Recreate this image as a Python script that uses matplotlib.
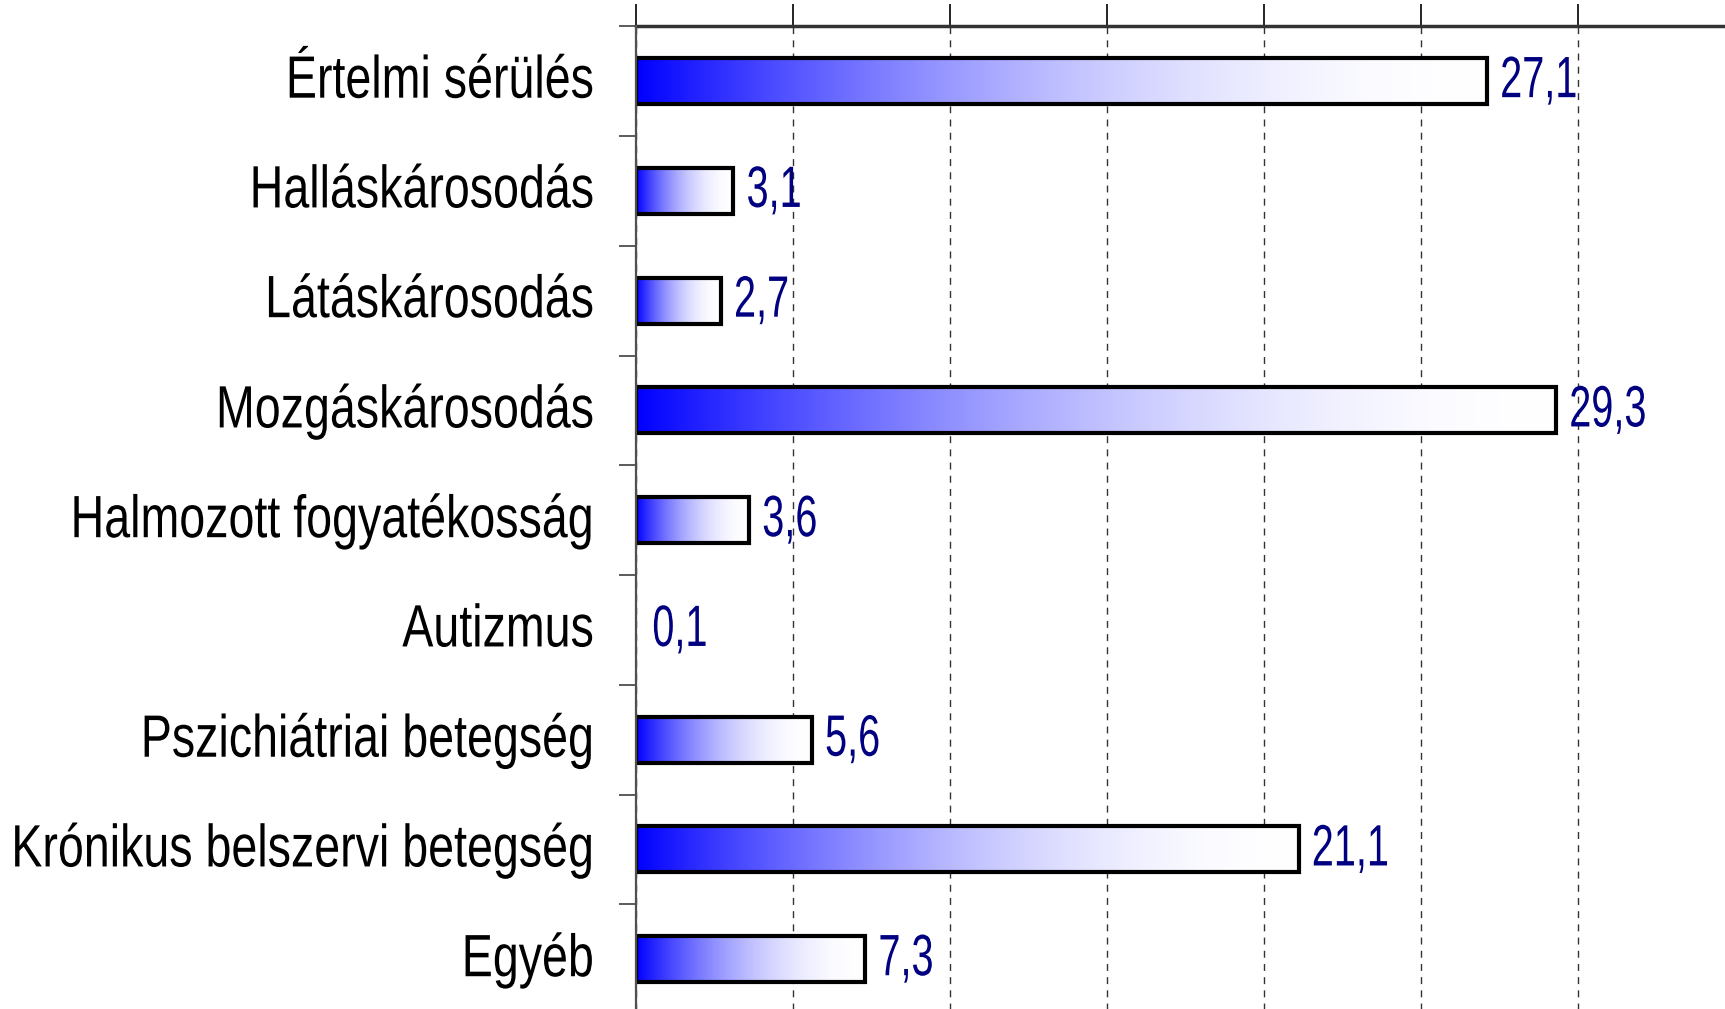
import numpy as np
import matplotlib.pyplot as plt
from matplotlib.patches import Rectangle
from matplotlib.text import Text
from matplotlib.patheffects import AbstractPathEffect
from matplotlib.transforms import Affine2D, Bbox, blended_transform_factory

# Data (percent)
categories = ['Értelmi sérülés', 'Halláskárosodás', 'Látáskárosodás', 'Mozgáskárosodás',
              'Halmozott fogyatékosság', 'Autizmus', 'Pszichiátriai betegség',
              'Krónikus belszervi betegség', 'Egyéb']
values = [27.1, 3.1, 2.7, 29.3, 3.6, 0.1, 5.6, 21.1, 7.3]
value_labels = ['27,1', '3,1', '2,7', '29,3', '3,6', '0,1', '5,6', '21,1', '7,3']

FONT = ['Liberation Sans', 'DejaVu Sans']


# no narrow font installed, so squeeze the glyphs horizontally (text stays text)
class Squeeze(AbstractPathEffect):
    def __init__(self, text):
        super().__init__()
        self.text = text

    def draw_path(self, renderer, gc, tpath, affine, rgbFace=None):
        x0 = self.text.anchor_x()
        sq = Affine2D().translate(-x0, 0).scale(self.text.sx, 1).translate(x0, 0)
        renderer.draw_path(gc, tpath, affine + sq, rgbFace)


class NarrowText(Text):
    def __init__(self, *args, sx=0.78, **kwargs):
        super().__init__(*args, **kwargs)
        self.sx = sx
        self.set_path_effects([Squeeze(self)])

    def anchor_x(self):
        return self.get_transform().transform(self.get_unitless_position())[0]

    def get_window_extent(self, renderer=None, dpi=None):
        bb = super().get_window_extent(renderer, dpi)
        x0 = self.anchor_x()
        return Bbox([[x0 + (bb.x0 - x0) * self.sx, bb.y0],
                     [x0 + (bb.x1 - x0) * self.sx, bb.y1]])


fig = plt.figure(figsize=(17.25, 10.09), dpi=100)
ax = fig.add_axes([0.3687, -0.005, 0.6313, 0.979])

n = len(categories)
ypos = np.arange(n)
bar_h = 0.42
text_dy = -0.045  # text sits a touch above the bar centre

# horizontal blue -> white gradient
t = np.linspace(0, 1, 256)
w = 1 - (1 - t) ** 2
grad = np.zeros((1, 256, 3))
grad[0, :, 0] = w
grad[0, :, 1] = w
grad[0, :, 2] = 1.0

bars = ax.barh(ypos, values, height=bar_h, color='none', edgecolor='black',
               linewidth=3, zorder=3)
for bar, v in zip(bars, values):
    if v < 0.5:
        # too thin to show in the original
        bar.set_edgecolor('none')
        continue
    x0, y0 = bar.get_x(), bar.get_y()
    bw, bh = bar.get_width(), bar.get_height()
    im = ax.imshow(grad, extent=[x0, x0 + bw, y0 + bh, y0], aspect='auto',
                   interpolation='bilinear', zorder=2)
    im.set_clip_path(Rectangle((x0, y0), bw, bh, transform=ax.transData))

for y, v, lab in zip(ypos, values, value_labels):
    ax.add_artist(NarrowText(v + 0.42, y + text_dy, lab, ha='left', va='center_baseline',
                             color='#000080', fontsize=42, family=FONT,
                             sx=0.68, clip_on=False, zorder=4))

ax.set_xlim(0, 34.68)
ax.set_ylim(n - 0.5, -0.5)

# category labels, right aligned left of the axis
trans = blended_transform_factory(ax.transAxes, ax.transData)
for y, cat in zip(ypos, categories):
    ax.add_artist(NarrowText(-0.0386, y + text_dy, cat, transform=trans, ha='right',
                             va='center_baseline', color='black', fontsize=43,
                             family=FONT, sx=0.78, clip_on=False))

ax.set_yticks(np.arange(n + 1) - 0.5)
ax.tick_params(axis='y', length=12, width=1.2, color='#404040', labelleft=False)

ax.xaxis.tick_top()
ax.set_xticks(np.arange(0, 35, 5))
ax.tick_params(axis='x', length=16, width=1.2, labeltop=False, labelbottom=False)
ax.grid(axis='x', linestyle=(0, (5, 4.5)), color='#333333', linewidth=1, zorder=1)

for side in ['right', 'bottom']:
    ax.spines[side].set_visible(False)
ax.spines['left'].set_color('#505050')
ax.spines['left'].set_linewidth(1.6)
ax.spines['left'].set_zorder(5)
ax.spines['top'].set_color('#333333')
ax.spines['top'].set_linewidth(2.5)

fig.savefig('out.png', dpi=100)
